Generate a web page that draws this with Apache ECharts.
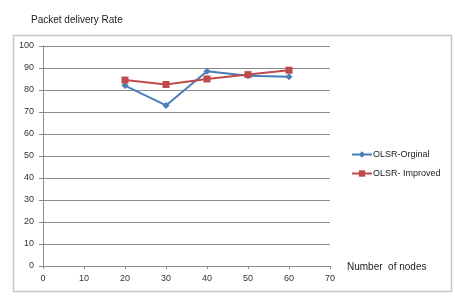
<!DOCTYPE html>
<html>
<head>
<meta charset="utf-8">
<script src="https://cdn.jsdelivr.net/npm/echarts@6/dist/echarts.min.js"></script>
<style>
  html, body { margin: 0; padding: 0; background: #fff; }
  #chart { width: 455px; height: 296px; }
</style>
</head>
<body>
<div id="chart"></div>
<script>
// number of nodes
var nodes = [20, 30, 40, 50, 60];
// packet delivery rate per series
var olsrOriginal = [82, 73, 88.5, 86.5, 86];
var olsrImproved = [84.5, 82.5, 85, 87, 89];

var chart = echarts.init(document.getElementById('chart'));
var font = 'Liberation Sans';

function pairs(xs, ys) {
  var out = [];
  for (var i = 0; i < xs.length; i++) out.push([xs[i], ys[i]]);
  return out;
}

var option = {
  animation: false,
  textStyle: { fontFamily: font },
  title: {
    text: 'Packet delivery Rate',
    left: 26, top: 10,
    textStyle: { fontSize: 10, fontWeight: 'normal', color: '#222' }
  },
  graphic: [{
    type: 'rect',
    shape: { x: 13.5, y: 35.5, width: 438, height: 256 },
    style: { fill: 'none', stroke: '#c8c8c8', lineWidth: 1.5 },
    silent: true
  }, {
    type: 'text',
    left: 347, top: 262,
    style: { text: 'Number  of nodes', fontSize: 10, fill: '#222', fontFamily: font }
  }],
  legend: {
    orient: 'vertical',
    left: 351, top: 150,
    padding: 0,
    itemGap: 10,
    itemWidth: 20, itemHeight: 8,
    textStyle: { fontSize: 9, color: '#222', padding: [0, 0, 0, -4] },
    data: ['OLSR-Orginal', 'OLSR- Improved']
  },
  grid: { left: 43, top: 46, width: 287, height: 220, containLabel: false },
  xAxis: {
    type: 'value', min: 0, max: 70, interval: 10,
    axisLine: { lineStyle: { color: '#8c8c8c' } },
    axisTick: { show: true, length: 3, lineStyle: { color: '#8c8c8c' } },
    axisLabel: { fontSize: 9, color: '#333', margin: 8 },
    splitLine: { show: false }
  },
  yAxis: {
    type: 'value', min: 0, max: 100, interval: 10,
    axisLine: { show: true, lineStyle: { color: '#8c8c8c' } },
    axisTick: { show: true, length: 4, lineStyle: { color: '#8c8c8c' } },
    axisLabel: { fontSize: 9, color: '#333', margin: 9 },
    splitLine: { show: true, lineStyle: { color: '#8c8c8c', width: 1 } }
  },
  series: [{
    name: 'OLSR-Orginal',
    type: 'line',
    data: pairs(nodes, olsrOriginal),
    symbol: 'diamond', symbolSize: 7,
    lineStyle: { color: '#4a7ebb', width: 2 },
    itemStyle: { color: '#4a7ebb' }
  }, {
    name: 'OLSR- Improved',
    type: 'line',
    data: pairs(nodes, olsrImproved),
    symbol: 'rect', symbolSize: 7,
    lineStyle: { color: '#be4b48', width: 2 },
    itemStyle: { color: '#be4b48' }
  }]
};
chart.setOption(option);
</script>
</body>
</html>
